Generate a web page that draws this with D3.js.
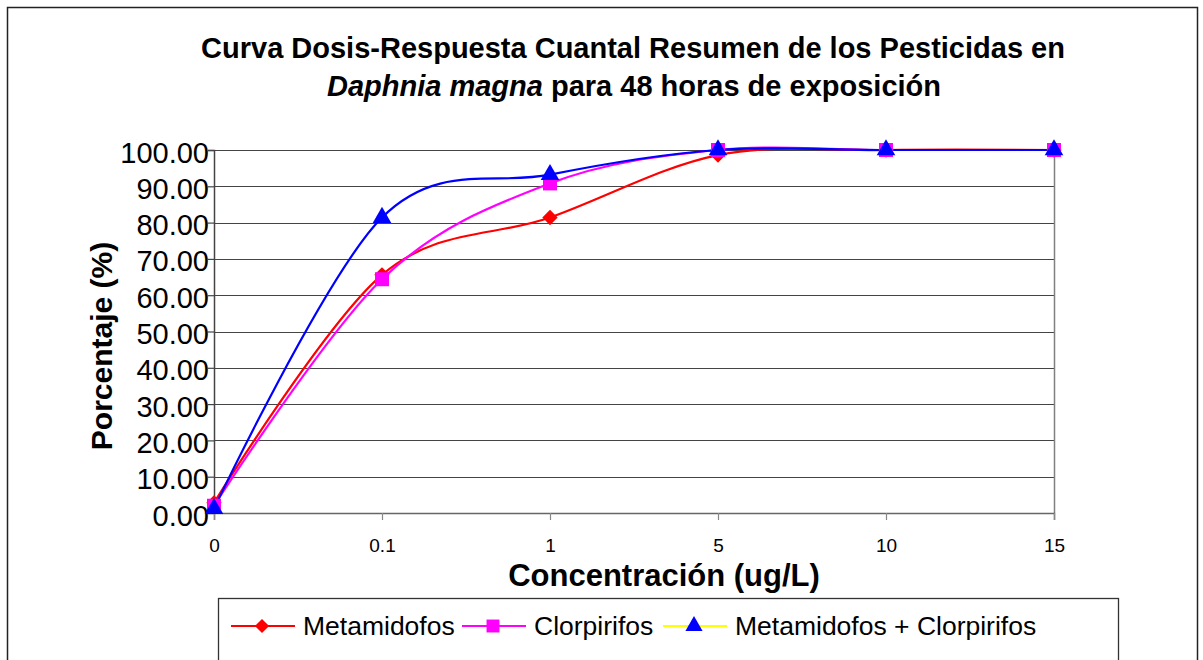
<!DOCTYPE html>
<html>
<head>
<meta charset="utf-8">
<script src="https://cdn.jsdelivr.net/npm/d3@7"></script>
<style>
  html, body { margin: 0; padding: 0; background: #fff; }
  svg { display: block; }
  text { font-family: Arial, "Liberation Sans", sans-serif; fill: #000; }
</style>
</head>
<body>
<svg id="chart" width="1203" height="660"></svg>
<script>
// ---- data ----
const categories = ["0", "0.1", "1", "5", "10", "15"];
const metamidofos = [2.8, 65.6, 81.4, 98.6, 100, 100];
const clorpirifos = [2.0, 64.4, 90.8, 100, 100, 100];
const combinado = [1.2, 81.4, 93.2, 100, 100, 100];
const yTicks = [0, 10, 20, 30, 40, 50, 60, 70, 80, 90, 100];
const seriesNames = ["Metamidofos", "Clorpirifos", "Metamidofos + Clorpirifos"];

const svg = d3.select("#chart");

// outer chart border
svg.append("rect").attr("x", 7.5).attr("y", 7.5).attr("width", 1190).attr("height", 700)
  .attr("fill", "none").attr("stroke", "#222").attr("stroke-width", 1.5);

const pL = 214, pR = 1054, pT = 150, pB = 513;
const x = d3.scalePoint().domain(categories).range([pL, pR]);
const y = d3.scaleLinear().domain([0, 100]).range([pB, pT]);

// gridlines
svg.append("g").selectAll("line").data(yTicks.filter(d => d > 0)).join("line")
  .attr("x1", pL).attr("x2", pR)
  .attr("y1", d => Math.round(y(d)) + 0.5).attr("y2", d => Math.round(y(d)) + 0.5)
  .attr("stroke", "#444").attr("stroke-width", 1.2);

// plot-area right border
svg.append("line").attr("x1", pR + 0.5).attr("x2", pR + 0.5).attr("y1", pT).attr("y2", pB)
  .attr("stroke", "#808080").attr("stroke-width", 1.5);

// y axis
const yAxis = d3.axisLeft(y).tickValues(yTicks).tickSize(6).tickPadding(0).tickFormat(d3.format(".2f"));
const gy = svg.append("g").attr("transform", `translate(${pL},0)`).call(yAxis);
gy.select(".domain").attr("stroke", "#444").attr("stroke-width", 1.5);
gy.selectAll(".tick line").attr("stroke", "#444").attr("stroke-width", 1.2);
gy.selectAll(".tick text").attr("font-size", 29).attr("font-family", "Arial, 'Liberation Sans', sans-serif")
  .attr("x", -5).attr("dy", null).attr("y", 12).attr("fill", "#000");

// x axis
const xAxis = d3.axisBottom(x).tickSize(7).tickPadding(0);
const gx = svg.append("g").attr("transform", `translate(0,${pB})`).call(xAxis);
gx.select(".domain").attr("stroke", "#666").attr("stroke-width", 1.5);
gx.selectAll(".tick line").attr("stroke", "#888").attr("stroke-width", 1.2);
gx.selectAll(".tick text").attr("font-size", 19).attr("font-family", "Arial, 'Liberation Sans', sans-serif")
  .attr("y", 39).attr("dy", null).attr("fill", "#000");

// titles
const title = svg.append("text").attr("text-anchor", "middle").attr("font-weight", "bold").attr("font-size", 29);
title.append("tspan").attr("x", 633).attr("y", 58).text("Curva Dosis-Respuesta Cuantal Resumen de los Pesticidas en");
const l2 = title.append("tspan").attr("x", 634).attr("y", 96);
l2.append("tspan").attr("font-style", "italic").text("Daphnia magna");
l2.append("tspan").text(" para 48 horas de exposición");

svg.append("text").attr("x", 664).attr("y", 586).attr("text-anchor", "middle")
  .attr("font-weight", "bold").attr("font-size", 31).text("Concentración (ug/L)");

svg.append("text").attr("transform", "translate(112,346) rotate(-90)").attr("text-anchor", "middle")
  .attr("font-weight", "bold").attr("font-size", 30).text("Porcentaje (%)");

// series
const series = [
  { name: seriesNames[0], values: metamidofos, line: "#ff0000", marker: "#ff0000", sym: d3.symbolDiamond2, size: 150 },
  { name: seriesNames[1], values: clorpirifos, line: "#ff00ff", marker: "#ff00ff", sym: d3.symbolSquare, size: 196 },
  { name: seriesNames[2], values: combinado, line: "#0000ff", marker: "#0000ff", legendLine: "#ffff00", sym: d3.symbolTriangle, size: 150 }
];

const lineGen = d3.line().x((d, i) => x(categories[i])).y(d => y(d)).curve(d3.curveCatmullRom.alpha(0));

series.forEach(s => {
  svg.append("path").datum(s.values).attr("d", lineGen)
    .attr("fill", "none").attr("stroke", s.line).attr("stroke-width", 2.2).attr("stroke-linejoin", "round");
});
series.forEach(s => {
  svg.append("g").selectAll("path").data(s.values).join("path")
    .attr("d", d3.symbol(s.sym, s.size))
    .attr("transform", (d, i) => `translate(${x(categories[i])},${y(d)})`)
    .attr("fill", s.marker);
});

// legend
svg.append("rect").attr("x", 218.5).attr("y", 598.5).attr("width", 900).attr("height", 120)
  .attr("fill", "#fff").attr("stroke", "#333").attr("stroke-width", 1.3);
const legendX = [231, 462, 663];
const ly = 626;
series.forEach((s, i) => {
  const g = svg.append("g").attr("transform", `translate(${legendX[i]},${ly})`);
  g.append("line").attr("x1", 0).attr("x2", 64).attr("y1", 0).attr("y2", 0)
    .attr("stroke", s.legendLine || s.line).attr("stroke-width", 2.2);
  g.append("path").attr("d", d3.symbol(s.sym, s.size * 0.85)).attr("transform", "translate(31,0)").attr("fill", s.marker);
  g.append("text").attr("x", 72).attr("y", 9).attr("font-size", 26.5).text(s.name);
});
</script>
</body>
</html>
